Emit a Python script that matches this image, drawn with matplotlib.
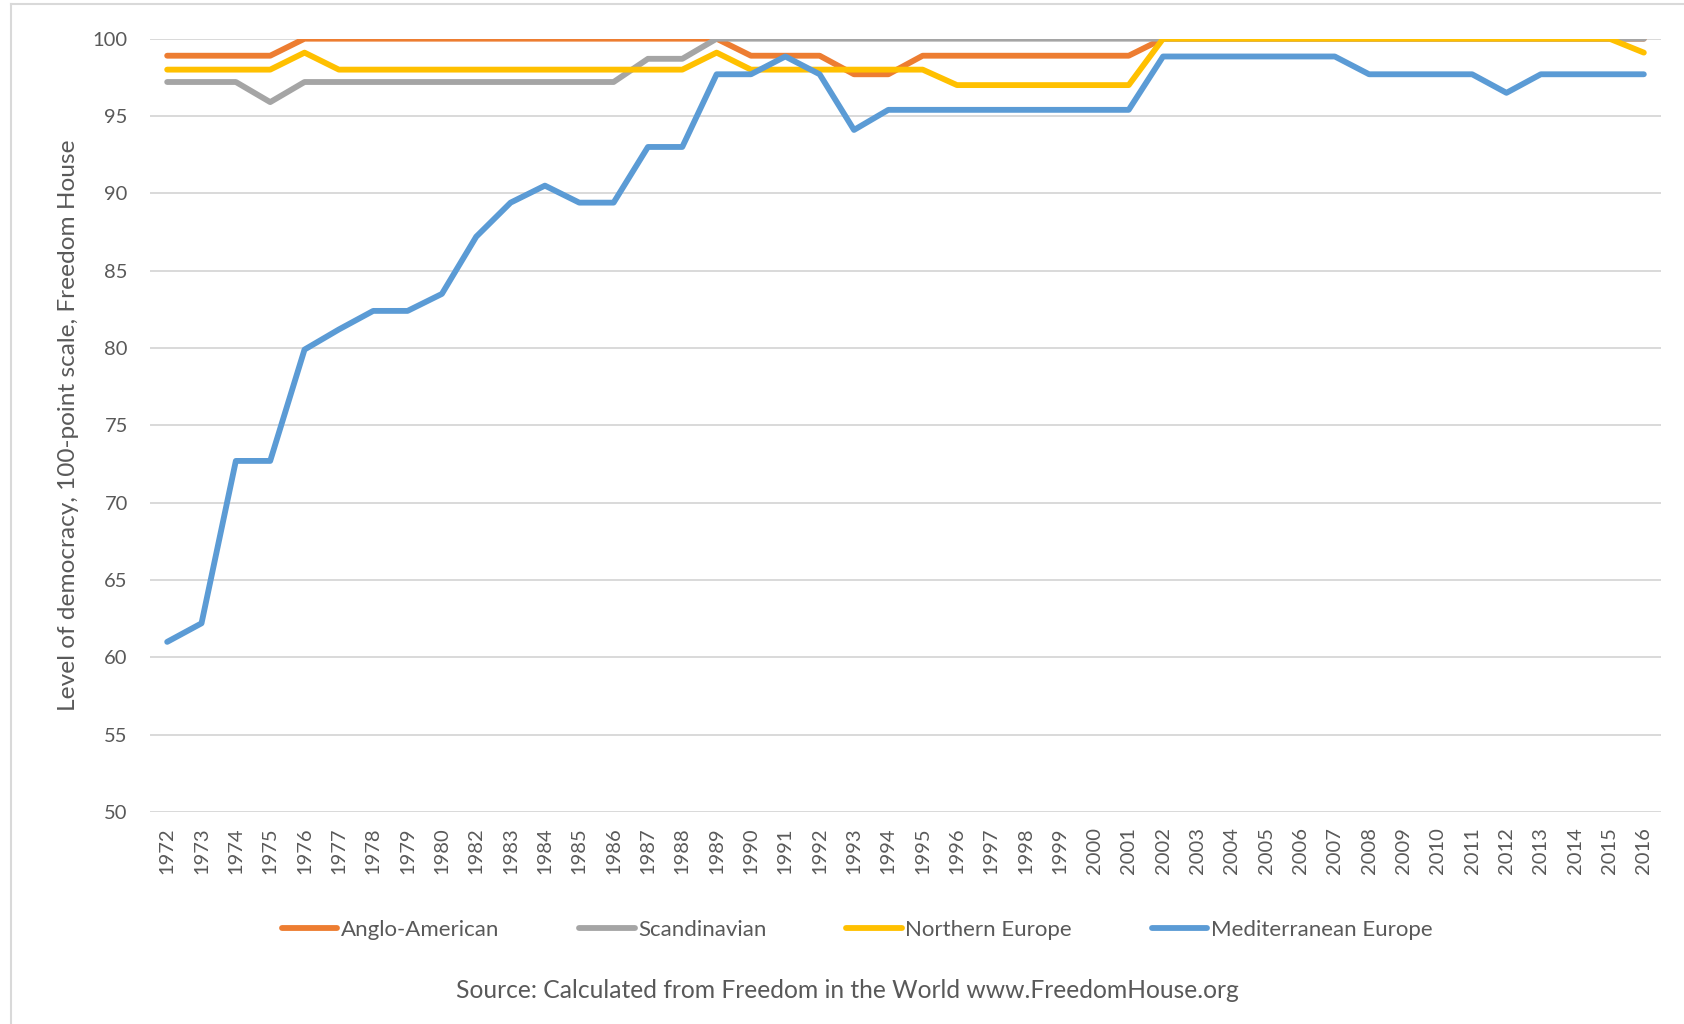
import numpy as np
import matplotlib
matplotlib.use("Agg")
import matplotlib.pyplot as plt
from matplotlib.lines import Line2D

plt.rcParams['font.family'] = ['Lato', 'DejaVu Sans']

# data (note: 1981 is absent in the source)
years = ['1972', '1973', '1974', '1975', '1976', '1977', '1978', '1979', '1980',
         '1982', '1983', '1984', '1985', '1986', '1987', '1988', '1989', '1990',
         '1991', '1992', '1993', '1994', '1995', '1996', '1997', '1998', '1999',
         '2000', '2001', '2002', '2003', '2004', '2005', '2006', '2007', '2008',
         '2009', '2010', '2011', '2012', '2013', '2014', '2015', '2016']

anglo = [98.9, 98.9, 98.9, 98.9, 100, 100, 100, 100, 100,
         100, 100, 100, 100, 100, 100, 100, 100, 98.9,
         98.9, 98.9, 97.7, 97.7, 98.9, 98.9, 98.9, 98.9, 98.9,
         98.9, 98.9, 100, 100, 100, 100, 100, 100, 100,
         100, 100, 100, 100, 100, 100, 100, 100]

scandinavian = [97.2, 97.2, 97.2, 95.9, 97.2, 97.2, 97.2, 97.2, 97.2,
                97.2, 97.2, 97.2, 97.2, 97.2, 98.7, 98.7, 100, 100,
                100, 100, 100, 100, 100, 100, 100, 100, 100,
                100, 100, 100, 100, 100, 100, 100, 100, 100,
                100, 100, 100, 100, 100, 100, 100, 100]

northern = [98.0, 98.0, 98.0, 98.0, 99.1, 98.0, 98.0, 98.0, 98.0,
            98.0, 98.0, 98.0, 98.0, 98.0, 98.0, 98.0, 99.1, 98.0,
            98.0, 98.0, 98.0, 98.0, 98.0, 97.0, 97.0, 97.0, 97.0,
            97.0, 97.0, 100, 100, 100, 100, 100, 100, 100,
            100, 100, 100, 100, 100, 100, 100, 99.1]

mediterranean = [61.0, 62.2, 72.7, 72.7, 79.9, 81.2, 82.4, 82.4, 83.5,
                 87.2, 89.4, 90.5, 89.4, 89.4, 93.0, 93.0, 97.7, 97.7,
                 98.85, 97.7, 94.1, 95.4, 95.4, 95.4, 95.4, 95.4, 95.4,
                 95.4, 95.4, 98.85, 98.85, 98.85, 98.85, 98.85, 98.85, 97.7,
                 97.7, 97.7, 97.7, 96.5, 97.7, 97.7, 97.7, 97.7]

series = [
    ('Anglo-American', anglo, '#ED7D31'),
    ('Scandinavian', scandinavian, '#A5A5A5'),
    ('Northern Europe', northern, '#FFC000'),
    ('Mediterranean Europe', mediterranean, '#5B9BD5'),
]

text_col = '#595959'
grid_col = '#D9D9D9'

fig = plt.figure(figsize=(16.84, 10.24), dpi=100)
ax = fig.add_axes([150 / 1684, 1 - 812 / 1024, 1511 / 1684, (812 - 38.7) / 1024])

x = np.arange(len(years))
for name, vals, col in series:
    ax.plot(x, vals, color=col, lw=4.2, solid_capstyle='round',
            solid_joinstyle='round', label=name, zorder=3)

ax.set_xlim(-0.5, len(years) - 0.5)
ax.set_ylim(50, 100)
ax.set_yticks(np.arange(50, 101, 5))
ax.set_xticks(x)
ax.set_xticklabels(years, rotation=90, va='top', ha='center')
ax.tick_params(axis='y', length=0, pad=16, labelsize=14.5, labelcolor=text_col)
ax.tick_params(axis='x', length=0, pad=11, labelsize=14.5, labelcolor=text_col)
ax.grid(axis='y', color=grid_col, lw=1.4, zorder=0)
ax.set_axisbelow(True)
for s in ax.spines.values():
    s.set_visible(False)

ax.set_ylabel('Level of democracy, 100-point scale, Freedom House',
              fontsize=17.6, color=text_col)
ax.yaxis.set_label_coords(-0.047, 0.5)

handles = [Line2D([], [], color=c, lw=4.2, solid_capstyle='round') for _, _, c in series]
fig.legend(handles, [n for n, _, _ in series], loc='center',
           bbox_to_anchor=(0.509, 1 - 930 / 1024), ncol=4, frameon=False,
           fontsize=16, labelcolor=text_col, handlelength=2.5,
           handletextpad=0.15, columnspacing=3.6)

fig.text(847 / 1684, 1 - 991 / 1024,
         'Source: Calculated from Freedom in the World www.FreedomHouse.org',
         ha='center', va='center', fontsize=17.7, color=text_col)

# chart frame (partly cropped in the original)
fig.add_artist(Line2D([11 / 1684, 11 / 1684], [0, 1 - 4 / 1024],
                      color=grid_col, lw=1.5, transform=fig.transFigure))
fig.add_artist(Line2D([11 / 1684, 1], [1 - 4 / 1024, 1 - 4 / 1024],
                      color=grid_col, lw=1.5, transform=fig.transFigure))

fig.savefig('out.png', dpi=100)
